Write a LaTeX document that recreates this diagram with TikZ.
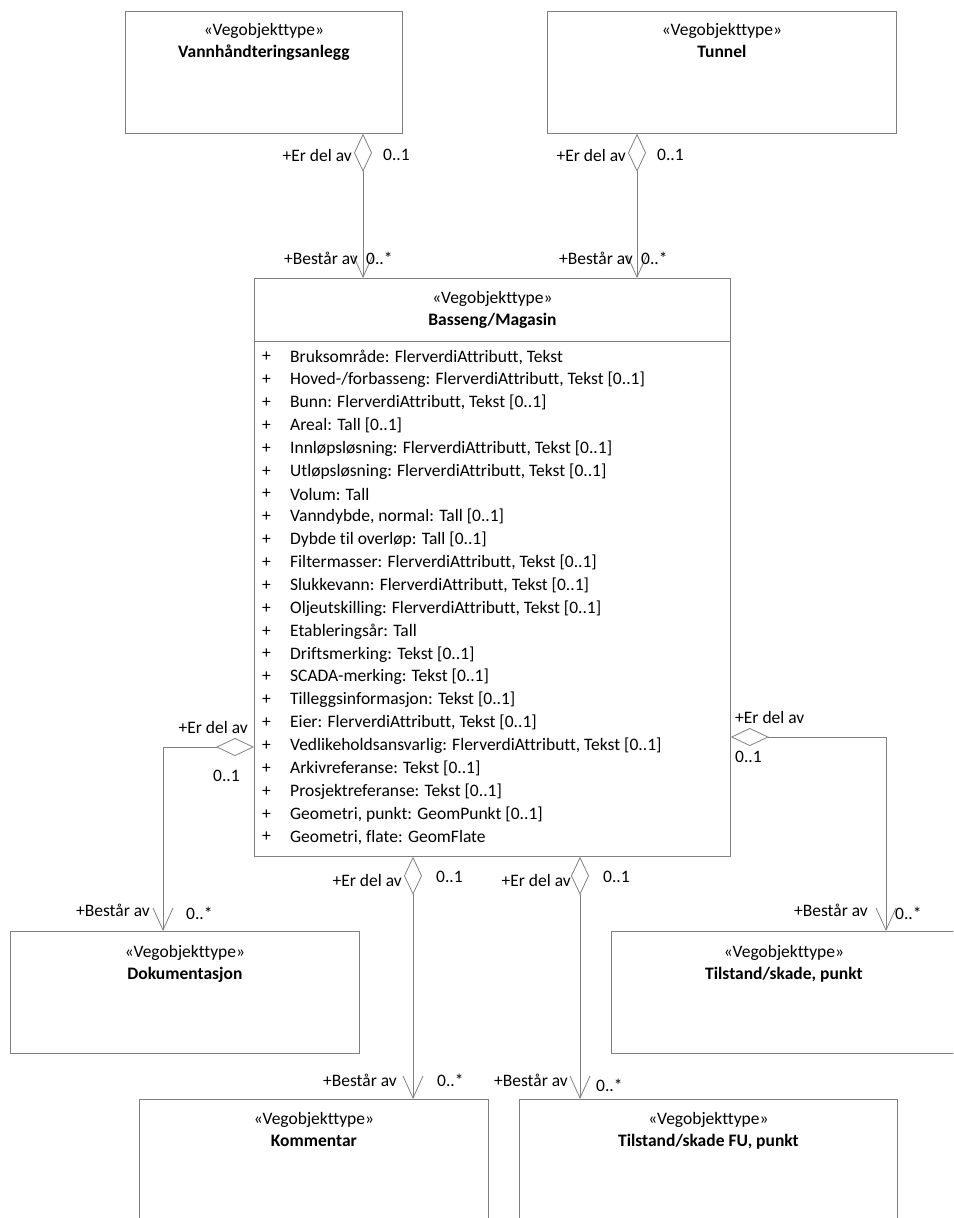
\documentclass[tikz,border=0pt]{standalone}
\usepackage{fontspec}
\setmainfont[Ligatures=NoCommon]{Carlito}
\usetikzlibrary{arrows.meta}
\definecolor{linegray}{HTML}{808080}
\tikzset{
  box/.style={draw=linegray, line width=0.8pt, anchor=north west, inner sep=0pt},
  lbl/.style={inner sep=0pt, font=\fontsize{17.5}{20}\selectfont},
  ttl/.style={inner sep=0pt, anchor=north, align=center, font=\fontsize{17.5}{22.5}\selectfont},
  attr/.style={inner sep=0pt, anchor=west, font=\fontsize{17.5}{20}\selectfont},
  agg/.style={draw=linegray, line width=0.8pt,
    {Diamond[open,length=38pt,width=18pt]}-{Straight Barb[length=22pt,width=20pt]}}
}
\begin{document}
\begin{tikzpicture}[x=1pt,y=-1pt]
\useasboundingbox (0,0) rectangle (953,1218);
\clip (0,0) rectangle (953,1218);
% boxes
\node[box, minimum width=277pt, minimum height=122pt] (vann) at (125,11) {};
\node[box, minimum width=349pt, minimum height=122pt] (tunnel) at (547,11) {};
\node[box, minimum width=476pt, minimum height=578pt] (bass) at (254,278) {};
\node[box, minimum width=349pt, minimum height=122pt] (dok) at (10,931) {};
\node[box, minimum width=345pt, minimum height=122pt] (tilst) at (611,931) {};
\node[box, minimum width=349pt, minimum height=140pt] (komm) at (139,1099) {};
\node[box, minimum width=378pt, minimum height=140pt] (tfu) at (519,1099) {};
\draw[draw=linegray, line width=0.8pt] (bass.west |- 0,341) coordinate (sepl) -- (bass.east |- 0,341) coordinate (sepr);
% titles
\node[ttl] (tvann) at ([yshift=-12pt]vann.north) {«Vegobjekttype»\\\textbf{Vannhåndteringsanlegg}};
\node[ttl] (ttun) at ([yshift=-12pt]tunnel.north) {«Vegobjekttype»\\\textbf{Tunnel}};
\node[ttl] (tbass) at ([yshift=-13pt]bass.north) {«Vegobjekttype»\\\textbf{Basseng/Magasin}};
\node[ttl] (tdok) at ([yshift=-14pt]dok.north) {«Vegobjekttype»\\\textbf{Dokumentasjon}};
\node[ttl] (ttil) at ([yshift=-14pt]tilst.north) {«Vegobjekttype»\\\textbf{Tilstand/skade, punkt}};
\node[ttl] (tkom) at ([yshift=-13pt]komm.north) {«Vegobjekttype»\\\textbf{Kommentar}};
\node[ttl] (ttfu) at ([yshift=-13pt]tfu.north) {«Vegobjekttype»\\\textbf{Tilstand/skade FU, punkt}};
% attributes
\foreach \t [count=\i from 0] in {
  {Bruksområde: FlerverdiAttributt, Tekst},
  {Hoved-/forbasseng: FlerverdiAttributt, Tekst [0..1]},
  {Bunn: FlerverdiAttributt, Tekst [0..1]},
  {Areal: Tall [0..1]},
  {Innløpsløsning: FlerverdiAttributt, Tekst [0..1]},
  {Utløpsløsning: FlerverdiAttributt, Tekst [0..1]},
  {Volum: Tall},
  {Vanndybde, normal: Tall [0..1]},
  {Dybde til overløp: Tall [0..1]},
  {Filtermasser: FlerverdiAttributt, Tekst [0..1]},
  {Slukkevann: FlerverdiAttributt, Tekst [0..1]},
  {Oljeutskilling: FlerverdiAttributt, Tekst [0..1]},
  {Etableringsår: Tall},
  {Driftsmerking: Tekst [0..1]},
  {SCADA-merking: Tekst [0..1]},
  {Tilleggsinformasjon: Tekst [0..1]},
  {Eier: FlerverdiAttributt, Tekst [0..1]},
  {Vedlikeholdsansvarlig: FlerverdiAttributt, Tekst [0..1]},
  {Arkivreferanse: Tekst [0..1]},
  {Prosjektreferanse: Tekst [0..1]},
  {Geometri, punkt: GeomPunkt [0..1]},
  {Geometri, flate: GeomFlate}} {
  \node[attr] (p\i) at (262,357+22.86*\i) {+};
  \node[attr] (a\i) at (290,357+22.86*\i) {\t};
}
% connector x positions
\coordinate (x163) at (163,0);
\coordinate (x363) at (363,0);
\coordinate (x413) at (413,0);
\coordinate (x580) at (580,0);
\coordinate (x637) at (637,0);
\coordinate (x886) at (886,0);
\coordinate (y747) at (0,747);
\coordinate (y737) at (0,737);
% connectors
\draw[agg] (vann.south -| x363) -- (bass.north -| x363);
\draw[agg] (tunnel.south -| x637) -- (bass.north -| x637);
\draw[agg] (bass.west |- y747) -| (dok.north -| x163);
\draw[agg] (bass.east |- y737) -| (tilst.north -| x886);
\draw[agg] (bass.south -| x413) -- (komm.north -| x413);
\draw[agg] (bass.south -| x580) -- (tfu.north -| x580);
% labels
\node[lbl, anchor=east] (l1) at (352,155) {+Er del av};
\node[lbl, anchor=west] (l2) at (383,155) {0..1};
\node[lbl, anchor=east] (l3) at (358,258) {+Består av};
\node[lbl, anchor=west] (l4) at (366,258) {0..*};
\node[lbl, anchor=east] (l5) at (626,155) {+Er del av};
\node[lbl, anchor=west] (l6) at (657,155) {0..1};
\node[lbl, anchor=east] (l7) at (633,258) {+Består av};
\node[lbl, anchor=west] (l8) at (641,258) {0..*};
\node[lbl, anchor=east] (l9) at (248,727) {+Er del av};
\node[lbl, anchor=west] (l10) at (213,776) {0..1};
\node[lbl, anchor=east] (l11) at (150,910) {+Består av};
\node[lbl, anchor=west] (l12) at (186,913) {0..*};
\node[lbl, anchor=west] (l13) at (735,717) {+Er del av};
\node[lbl, anchor=west] (l14) at (735,757) {0..1};
\node[lbl, anchor=east] (l15) at (868,910) {+Består av};
\node[lbl, anchor=west] (l16) at (895,913) {0..*};
\node[lbl, anchor=east] (l17) at (402,880) {+Er del av};
\node[lbl, anchor=west] (l18) at (436,877) {0..1};
\node[lbl, anchor=east] (l19) at (397,1080) {+Består av};
\node[lbl, anchor=west] (l20) at (437,1080) {0..*};
\node[lbl, anchor=east] (l21) at (571,880) {+Er del av};
\node[lbl, anchor=west] (l22) at (603,877) {0..1};
\node[lbl, anchor=east] (l23) at (568,1080) {+Består av};
\node[lbl, anchor=west] (l24) at (596,1085) {0..*};
\end{tikzpicture}
\end{document}
